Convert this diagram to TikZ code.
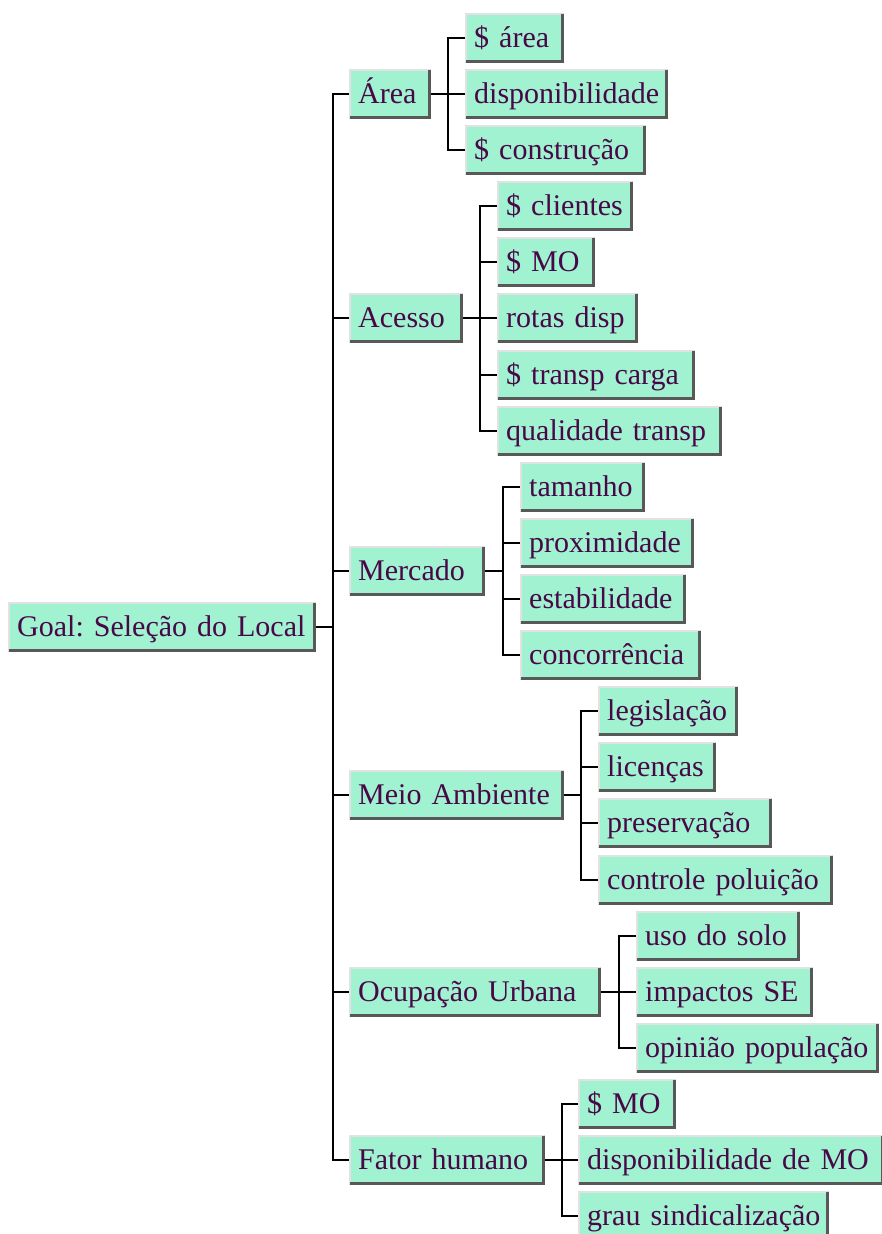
\documentclass[tikz,border=0pt]{standalone}
\usepackage{fontspec}
\setmainfont{Liberation Serif}
\usetikzlibrary{calc}
\frenchspacing
\definecolor{mint}{RGB}{160,242,208}
\definecolor{bevlight}{RGB}{226,226,226}
\definecolor{bevdark}{RGB}{88,88,88}
\definecolor{txtcol}{RGB}{72,8,72}
\tikzset{
  box/.style={fill=mint, anchor=west, minimum height=50pt, inner xsep=9pt, inner ysep=0pt,
    text height=22pt, text depth=3pt, align=left, font=\fontsize{30}{31}\selectfont\frenchspacing, text=txtcol},
  conn/.style={line width=2pt, black},
  bevl/.style={line width=2pt, bevlight},
  bevd/.style={line width=3pt, bevdark},
}
\newcommand{\mybox}[5]{%
  \pgfmathsetlengthmacro\mytw{(#3)-(#2)-18}%
  \node[box, text width=\mytw] (#1) at (#2,#4) {\mbox{#5}};
  \draw[bevl] ([xshift=1pt,yshift=1pt]#1.south west) -- ([xshift=1pt,yshift=-1pt]#1.north west) -- ([xshift=-1pt,yshift=-1pt]#1.north east);
  \draw[bevd] ([xshift=-1.5pt,yshift=-1pt]#1.north east) -- ([xshift=-1.5pt,yshift=1.5pt]#1.south east) -- ([xshift=1pt,yshift=1.5pt]#1.south west);
}
\begin{document}
\begin{tikzpicture}[x=1pt,y=-1pt]
\fill[white] (0,0) rectangle (881,1234);
\useasboundingbox (0,0) rectangle (881,1234);

% junction coordinates
\coordinate (tk) at (333,627);
\coordinate (jA) at (448,0);
\coordinate (jB) at (480,0);
\coordinate (jC) at (503,0);
\coordinate (jD) at (581,0);
\coordinate (jE) at (619,0);
\coordinate (jF) at (562,0);

% root and level 1
\mybox{root}{8}{316}{627}{Goal: Seleção do Local}
\mybox{A}{349}{431}{94}{Área}
\mybox{B}{349}{463}{318}{Acesso}
\mybox{C}{349}{485}{571}{Mercado}
\mybox{D}{349}{564}{795}{Meio Ambiente}
\mybox{E}{349}{601}{992}{Ocupação Urbana}
\mybox{F}{349}{545}{1160}{Fator humano}

% level 2
\mybox{a1}{465}{564}{38}{\$ área}
\mybox{a2}{465}{668}{94}{disponibilidade}
\mybox{a3}{465}{646}{150}{\$ construção}
\mybox{b1}{497}{633}{206}{\$ clientes}
\mybox{b2}{497}{595}{262}{\$ MO}
\mybox{b3}{497}{638}{318}{rotas disp}
\mybox{b4}{497}{695}{375}{\$ transp carga}
\mybox{b5}{497}{722}{431}{qualidade transp}
\mybox{c1}{520}{645}{487}{tamanho}
\mybox{c2}{520}{694}{543}{proximidade}
\mybox{c3}{520}{686}{599}{estabilidade}
\mybox{c4}{520}{701}{655}{concorrência}
\mybox{d1}{598}{738}{711}{legislação}
\mybox{d2}{598}{716}{767}{licenças}
\mybox{d3}{598}{772}{823}{preservação}
\mybox{d4}{598}{833}{880}{controle poluição}
\mybox{e1}{636}{800}{936}{uso do solo}
\mybox{e2}{636}{813}{992}{impactos SE}
\mybox{e3}{636}{879}{1048}{opinião população}
\mybox{f1}{578}{676}{1104}{\$ MO}
\mybox{f2}{578}{884}{1160}{disponibilidade de MO}
\mybox{f3}{578}{829}{1216}{grau sindicalização}

% connectors
\foreach \n in {A,B,C,D,E,F}
  \draw[conn] (root.east) -- (tk) |- (\n.west);
\foreach \n in {a1,a2,a3}
  \draw[conn] (A.east) -- (A.east -| jA) |- (\n.west);
\foreach \n in {b1,b2,b3,b4,b5}
  \draw[conn] (B.east) -- (B.east -| jB) |- (\n.west);
\foreach \n in {c1,c2,c3,c4}
  \draw[conn] (C.east) -- (C.east -| jC) |- (\n.west);
\foreach \n in {d1,d2,d3,d4}
  \draw[conn] (D.east) -- (D.east -| jD) |- (\n.west);
\foreach \n in {e1,e2,e3}
  \draw[conn] (E.east) -- (E.east -| jE) |- (\n.west);
\foreach \n in {f1,f2,f3}
  \draw[conn] (F.east) -- (F.east -| jF) |- (\n.west);
\end{tikzpicture}
\end{document}
